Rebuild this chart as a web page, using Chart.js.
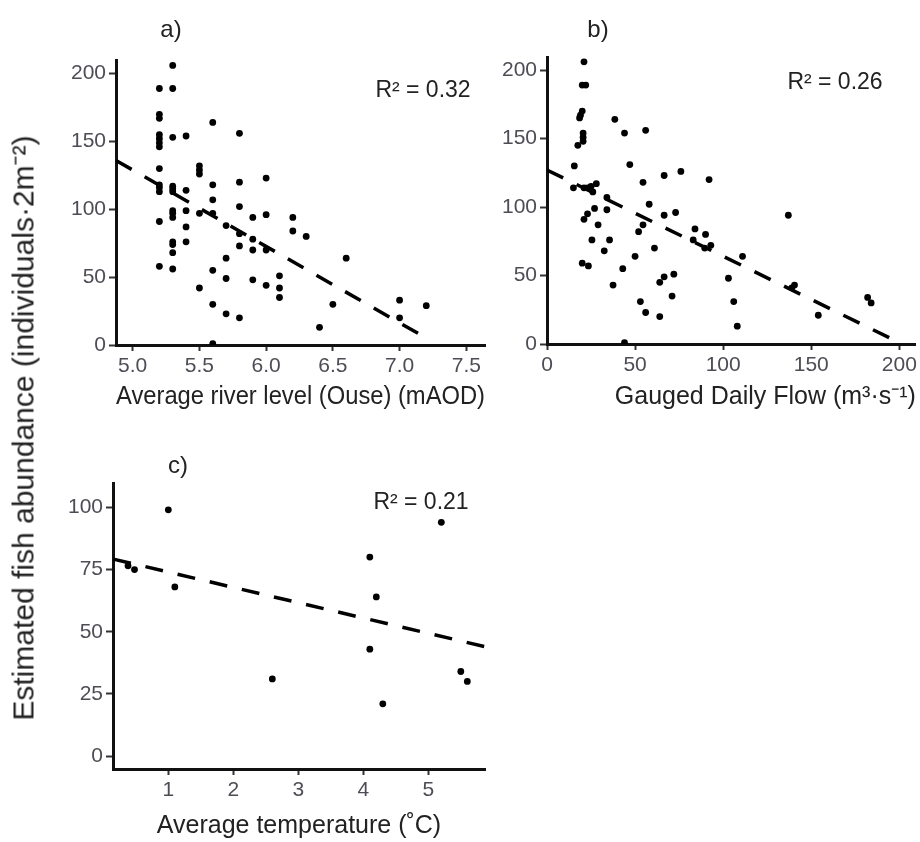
<!DOCTYPE html>
<html>
<head>
<meta charset="utf-8">
<script src="https://cdn.jsdelivr.net/npm/chart.js@4.4.1/dist/chart.umd.min.js"></script>
<style>
  body { margin: 0; background: #fff; }
  #wrap { position: relative; width: 920px; height: 842px; overflow: hidden; font-family: "Liberation Sans", Arial, sans-serif; }
  canvas { position: absolute; }
  #ytitle { position: absolute; left: 22px; top: 428px; transform: translate(-50%, -50%) rotate(-90deg); white-space: nowrap; font-size: 30px; color: #222; }
</style>
</head>
<body>
<div id="wrap">
  <canvas id="chartA" width="490" height="420" style="left:0;top:0"></canvas>
  <canvas id="chartB" width="430" height="420" style="left:490px;top:0"></canvas>
  <canvas id="chartC" width="490" height="422" style="left:0;top:420px"></canvas>
  <div id="ytitle">Estimated fish abundance (individuals·2m⁻²)</div>
</div>
<script>
// a) river level vs abundance
const levelA = [5.3, 5.2, 5.3, 5.2, 5.2, 5.2, 5.2, 5.2, 5.2, 5.3, 5.4, 5.2, 5.2, 5.2, 5.2, 5.3, 5.3, 5.3, 5.4, 5.2,
  5.3, 5.3, 5.3, 5.4, 5.4, 5.3, 5.3, 5.4, 5.3, 5.2, 5.3, 5.5, 5.5, 5.5, 5.5, 5.5, 5.6, 5.6, 5.6, 5.6,
  5.7, 5.6, 5.7, 5.7, 5.6, 5.7, 5.6, 5.8, 5.8, 5.8, 5.8, 5.8, 5.8, 5.9, 5.9, 5.9, 5.9, 6.0, 6.0, 6.0,
  6.0, 6.1, 6.1, 6.1, 6.2, 6.2, 6.3, 6.4, 6.5, 6.6, 7.0, 7.0, 7.2];
const fishA = [206, 189, 189, 170, 167, 155, 152, 149, 146, 153, 154, 130, 118, 116, 113, 117, 115, 113, 114, 91,
  99, 97, 94, 99, 87, 76, 74, 76, 68, 58, 56, 132, 129, 126, 97, 42, 164, 118, 107, 97,
  88, 55, 64, 49, 30, 23, 1, 156, 120, 102, 82, 73, 20, 94, 78, 70, 48, 123, 96, 70,
  44, 51, 42, 35, 94, 84, 80, 13, 30, 64, 33, 20, 29];
const fitAx = [4.875, 7.175];
const fitAy = [136, 6.5];

// b) gauged flow vs abundance
const flowB = [21, 20, 22, 20, 19, 18.5, 20.5, 20.5, 20.5, 17.5, 15.5, 15, 21, 23, 25, 28, 26, 27, 23, 21,
  29, 34, 34, 25.5, 35.5, 32.5, 20, 23.5, 37.5, 38.5, 44, 47, 43, 44, 50, 52, 54.5, 54.5, 56, 58,
  53, 56, 61, 64, 64, 66.5, 66.5, 66.5, 71, 72, 73, 76, 84, 83, 90, 89.5, 93, 92, 103, 106,
  108, 111, 137, 140.5, 139, 154, 182, 184];
const fishB = [206, 189, 189, 170, 167, 165, 154, 151, 148, 145, 130, 114, 114, 114, 115, 117, 111, 99, 95, 91,
  87, 107, 98, 76, 76, 68, 59, 57, 43, 164, 154, 131, 55, 1, 64, 82, 87, 118, 156, 102,
  31, 23, 70, 20, 45, 49, 94, 123, 35, 51, 96, 126, 84, 76, 80, 70, 72, 120, 48, 31,
  13, 64, 94, 43, 41, 21, 34, 30];
const fitBx = [0, 200];
const fitBy = [127, 1];

// c) temperature vs abundance
const tempC = [0.38, 0.48, 1.0, 1.1, 2.6, 4.1, 4.2, 4.1, 4.3, 5.2, 5.5, 5.6];
const fishC = [76.5, 75, 99, 68, 31, 80, 64, 43, 21, 94, 34, 30];
const fitCx = [0.154, 5.87];
const fitCy = [79.2, 44];

const ticksA = [5.0, 5.5, 6.0, 6.5, 7.0, 7.5];
const ticksB = [0, 50, 100, 150, 200];
const ticksC = [1, 2, 3, 4, 5];
const ticksY = [0, 50, 100, 150, 200];
const ticksYC = [0, 25, 50, 75, 100];

Chart.defaults.font.family = "'Liberation Sans', Arial, sans-serif";
Chart.defaults.animation = false;

// draws panel letters and R² notes at fixed canvas positions
const panelText = {
  id: 'panelText',
  afterDraw(chart, args, opts) {
    const ctx = chart.ctx;
    ctx.save();
    ctx.fillStyle = '#222';
    ctx.textAlign = 'center';
    ctx.textBaseline = 'middle';
    (opts.items || []).forEach(it => {
      ctx.font = it.size + "px 'Liberation Sans', Arial, sans-serif";
      ctx.fillText(it.text, it.x, it.y);
    });
    ctx.restore();
  }
};

function xScale(min, max, ticks, digits, title, height, titlePad, align) {
  return {
    type: 'linear', min: min, max: max,
    afterBuildTicks: s => { s.ticks = ticks.map(v => ({ value: v })); },
    afterFit: s => { s.height = height; },
    grid: { drawOnChartArea: false, drawTicks: true, tickLength: 6, tickWidth: 2, tickColor: '#333' },
    border: { display: true, color: '#111', width: 3 },
    ticks: { color: '#4d4d55', font: { size: 21 }, padding: 3, maxRotation: 0, autoSkip: false,
      callback: v => v.toFixed(digits) },
    title: { display: true, text: title, color: '#222', font: { size: 25 }, align: align || 'center',
      padding: { top: 0, bottom: titlePad } }
  };
}

function yScale(min, max, ticks, width) {
  return {
    type: 'linear', min: min, max: max,
    afterBuildTicks: s => { s.ticks = ticks.map(v => ({ value: v })); },
    afterFit: s => { s.width = width; },
    grid: { drawOnChartArea: false, drawTicks: true, tickLength: 7, tickWidth: 2, tickColor: '#333' },
    border: { display: true, color: '#111', width: 3 },
    ticks: { color: '#4d4d55', font: { size: 21 }, padding: 3, autoSkip: false }
  };
}

function makeChart(id, xs, ys, fx, fy, scales, pad, items) {
  const pts = xs.map((x, i) => ({ x: x, y: ys[i] }));
  const fit = fx.map((x, i) => ({ x: x, y: fy[i] }));
  return new Chart(document.getElementById(id), {
    type: 'scatter',
    data: {
      datasets: [
        { data: pts, pointRadius: 3.4, pointBackgroundColor: '#000', pointBorderWidth: 0, pointHoverRadius: 3.4 },
        { type: 'line', data: fit, borderColor: '#000', borderWidth: 3.5, borderDash: [18, 15],
          pointRadius: 0, fill: false, tension: 0 }
      ]
    },
    options: {
      responsive: false,
      layout: { padding: pad },
      scales: scales,
      plugins: { legend: { display: false }, tooltip: { enabled: false }, panelText: { items: items } }
    },
    plugins: [panelText]
  });
}

makeChart('chartA', levelA, fishA, fitAx, fitAy, {
  x: xScale(4.875, 7.64, ticksA, 1, 'Average river level (Ouse) (mAOD)', 75, 8),
  y: yScale(0, 210, ticksY, 116)
}, { top: 60, right: 5, left: 0, bottom: 0 }, [
  { text: 'a)', x: 171, y: 30, size: 24 },
  { text: 'R² = 0.32', x: 423, y: 91, size: 23 }
]);

makeChart('chartB', flowB, fishB, fitBx, fitBy, {
  x: xScale(0, 209.4, ticksB, 0, 'Gauged Daily Flow (m³·s⁻¹)', 76, 8, 'end'),
  y: yScale(0, 209.5, ticksY, 57)
}, { top: 57, right: 3, left: 0, bottom: 0 }, [
  { text: 'b)', x: 108, y: 30, size: 24 },
  { text: 'R² = 0.26', x: 345, y: 83, size: 23 }
]);

makeChart('chartC', tempC, fishC, fitCx, fitCy, {
  x: xScale(0.149, 5.872, ticksC, 0, 'Average temperature (˚C)', 73, 1),
  y: yScale(-5.2, 109.8, ticksYC, 113)
}, { top: 63, right: 5, left: 0, bottom: 0 }, [
  { text: 'c)', x: 178, y: 46, size: 24 },
  { text: 'R² = 0.21', x: 421, y: 83, size: 23 }
]);
</script>
</body>
</html>
